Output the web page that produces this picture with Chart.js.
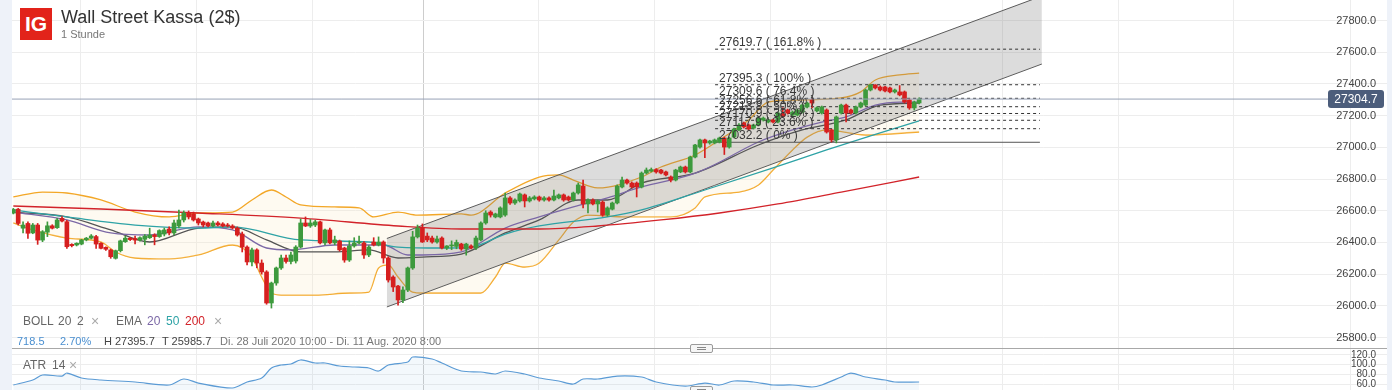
<!DOCTYPE html>
<html>
<head>
<meta charset="utf-8">
<title>Wall Street Kassa (2$)</title>
<script src="https://cdn.jsdelivr.net/npm/chart.js@4.4.1/dist/chart.umd.min.js"></script>
<style>
  body { margin: 0; width: 1392px; height: 390px; overflow: hidden; position: relative; background: #fff;
         font-family: Arial, "Liberation Sans", sans-serif; }
  .strip { position: absolute; top: 0; height: 390px; background: #eef2f9; }
  .pane { position: absolute; left: 12px; width: 1375px; }
  .txt { position: absolute; white-space: nowrap; }
  .handle { position: absolute; left: 690px; width: 21px; height: 7px; border: 1px solid #9a9a9a; border-radius: 2px; background: #f6f6f6; }
  .handle i { position: absolute; left: 6px; width: 9px; height: 1px; background: #888; }
</style>
</head>
<body>
<div class="strip" style="left:0;width:12px"></div>
<div class="strip" style="left:1387px;width:5px"></div>
<div class="pane" style="top:0;height:348px"><canvas id="mainChart"></canvas></div>
<div style="position:absolute;left:12px;top:348px;width:1375px;height:1px;background:#a8a8a8"></div>
<div class="pane" style="top:349px;height:41px"><canvas id="atrChart"></canvas></div>

<!-- header -->
<div style="position:absolute;left:20px;top:8px;width:32px;height:32px;background:#e2231a;color:#fff;font-weight:bold;font-size:21px;line-height:32px;text-align:center">IG</div>
<div class="txt" style="left:61px;top:8px;font-size:18px;line-height:18px;color:#333">Wall Street Kassa (2$)</div>
<div class="txt" style="left:61px;top:29px;font-size:11px;line-height:11px;color:#777">1 Stunde</div>

<!-- indicator legend -->
<div class="txt" style="left:23px;top:315px;font-size:12px;line-height:12px;color:#666">BOLL</div>
<div class="txt" style="left:58px;top:315px;font-size:12px;line-height:12px;color:#666">20</div>
<div class="txt" style="left:77px;top:315px;font-size:12px;line-height:12px;color:#666">2</div>
<div class="txt" style="left:91px;top:314px;font-size:14px;line-height:14px;color:#aaa">&#215;</div>
<div class="txt" style="left:116px;top:315px;font-size:12px;line-height:12px;color:#666">EMA</div>
<div class="txt" style="left:147px;top:315px;font-size:12px;line-height:12px;color:#7b68a6">20</div>
<div class="txt" style="left:166px;top:315px;font-size:12px;line-height:12px;color:#2ea3a6">50</div>
<div class="txt" style="left:185px;top:315px;font-size:12px;line-height:12px;color:#d2232a">200</div>
<div class="txt" style="left:214px;top:314px;font-size:14px;line-height:14px;color:#aaa">&#215;</div>

<div class="txt" style="left:17px;top:336px;font-size:11px;line-height:11px;color:#4a8fd0">718.5</div>
<div class="txt" style="left:60px;top:336px;font-size:11px;line-height:11px;color:#4a8fd0">2.70%</div>
<div class="txt" style="left:104px;top:336px;font-size:11px;line-height:11px;color:#444">H 27395.7</div>
<div class="txt" style="left:162px;top:336px;font-size:11px;line-height:11px;color:#444">T 25985.7</div>
<div class="txt" style="left:220px;top:336px;font-size:11px;line-height:11px;color:#777">Di. 28 Juli 2020 10:00 - Di. 11 Aug. 2020 8:00</div>

<div class="handle" style="top:344px"><i style="top:2px"></i><i style="top:4px"></i></div>
<div class="handle" style="top:386px"><i style="top:2px"></i></div>

<div class="txt" style="left:23px;top:359px;font-size:12px;line-height:12px;color:#666">ATR</div>
<div class="txt" style="left:52px;top:359px;font-size:12px;line-height:12px;color:#666">14</div>
<div class="txt" style="left:69px;top:358px;font-size:14px;line-height:14px;color:#aaa">&#215;</div>

<script>
//--- Kerzen, 1 Stunde: Di. 28 Juli 2020 10:00 - Di. 11 Aug. 2020 8:00 (index 0 .. 186)
var opens = [
    26585, 26610, 26490, 26520, 26460, 26510, 26415, 26465, 26505, 26493,
    26552, 26531, 26388, 26384, 26390, 26416, 26427, 26437, 26395, 26369,
    26353, 26300, 26348, 26405, 26427, 26425, 26415, 26420, 26430, 26447,
    26437, 26453, 26485, 26460, 26504, 26542, 26586, 26580, 26548, 26529,
    26523, 26504, 26523, 26517, 26510, 26504, 26491, 26453, 26371, 26277,
    26353, 26270, 26214, 26018, 26144, 26239, 26302, 26280, 26283, 26371,
    26523, 26504, 26510, 26530, 26397, 26479, 26397, 26409, 26365, 26289,
    26378, 26397, 26397, 26321, 26403, 26384, 26403, 26302, 26182, 26125,
    26037, 26100, 26239, 26435, 26491, 26440, 26428, 26403, 26428, 26365,
    26378, 26375, 26390, 26359, 26378, 26365, 26416, 26523, 26592, 26561,
    26561, 26573, 26681, 26649, 26662, 26700, 26662, 26675, 26687, 26668,
    26681, 26668, 26681, 26700, 26687, 26668, 26712, 26756, 26643, 26668,
    26643, 26655, 26573, 26610, 26649, 26750, 26794, 26775, 26775, 26750,
    26838, 26850, 26860, 26857, 26845, 26813, 26794, 26845, 26876, 26845,
    26939, 27002, 27047, 27028, 27028, 27034, 27059, 27002, 27065, 27110,
    27154, 27141, 27122, 27141, 27173, 27160, 27173, 27160, 27210, 27236,
    27204, 27204, 27223, 27255, 27299, 27230, 27217, 27236, 27110, 27047,
    27217, 27267, 27236, 27217, 27255, 27267, 27362, 27394, 27381, 27381,
    27375, 27350, 27350, 27350, 27299, 27249, 27280
];
var highs = [
    26615, 26615, 26530, 26530, 26520, 26520, 26475, 26530, 26512, 26552,
    26563, 26540, 26392, 26398, 26420, 26432, 26450, 26445, 26400, 26372,
    26358, 26352, 26415, 26440, 26432, 26440, 26435, 26450, 26490, 26455,
    26480, 26491, 26498, 26542, 26605, 26599, 26599, 26592, 26554, 26535,
    26529, 26535, 26532, 26525, 26520, 26512, 26498, 26466, 26378, 26365,
    26360, 26290, 26222, 26150, 26245, 26321, 26320, 26340, 26380, 26548,
    26561, 26545, 26540, 26535, 26485, 26490, 26440, 26415, 26370, 26410,
    26430, 26440, 26405, 26380, 26430, 26435, 26410, 26310, 26190, 26130,
    26120, 26245, 26470, 26510, 26517, 26460, 26440, 26440, 26435, 26380,
    26410, 26415, 26395, 26395, 26385, 26440, 26530, 26600, 26600, 26585,
    26625, 26712, 26690, 26675, 26712, 26706, 26690, 26695, 26693, 26690,
    26688, 26731, 26706, 26706, 26693, 26718, 26775, 26794, 26675, 26675,
    26668, 26662, 26625, 26655, 26763, 26813, 26800, 26782, 26782, 26845,
    26870, 26870, 26866, 26862, 26850, 26820, 26862, 26882, 26882, 26945,
    27020, 27053, 27053, 27045, 27053, 27065, 27065, 27065, 27122, 27150,
    27160, 27147, 27147, 27192, 27192, 27180, 27179, 27223, 27250, 27242,
    27230, 27242, 27273, 27286, 27305, 27256, 27261, 27243, 27115, 27198,
    27273, 27273, 27242, 27261, 27286, 27368, 27396, 27396, 27388, 27386,
    27380, 27368, 27390, 27356, 27305, 27292, 27312
];
var lows = [
    26580, 26510, 26460, 26425, 26455, 26388, 26405, 26437, 26485, 26488,
    26530, 26362, 26372, 26378, 26385, 26410, 26422, 26362, 26360, 26350,
    26300, 26295, 26340, 26400, 26412, 26390, 26408, 26385, 26425, 26385,
    26432, 26441, 26447, 26447, 26491, 26529, 26548, 26535, 26510, 26498,
    26498, 26498, 26505, 26498, 26498, 26485, 26440, 26340, 26258, 26252,
    26240, 26200, 26010, 25986, 26130, 26230, 26270, 26265, 26270, 26365,
    26500, 26495, 26500, 26390, 26385, 26390, 26385, 26345, 26275, 26280,
    26370, 26390, 26300, 26310, 26378, 26378, 26270, 26150, 26090, 26005,
    26020, 26090, 26230, 26428, 26400, 26405, 26395, 26395, 26360, 26355,
    26355, 26360, 26350, 26320, 26360, 26355, 26410, 26515, 26560, 26555,
    26555, 26565, 26640, 26640, 26655, 26624, 26655, 26668, 26660, 26660,
    26660, 26662, 26675, 26660, 26662, 26662, 26705, 26618, 26586, 26637,
    26592, 26565, 26565, 26605, 26643, 26744, 26768, 26744, 26687, 26744,
    26832, 26845, 26838, 26832, 26820, 26782, 26788, 26840, 26838, 26840,
    26933, 26995, 26935, 27020, 27022, 27028, 26955, 26995, 27059, 27105,
    27122, 27110, 27116, 27135, 27166, 27154, 27154, 27154, 27190, 27210,
    27198, 27198, 27217, 27249, 27249, 27224, 27210, 27090, 27034, 27028,
    27210, 27160, 27210, 27210, 27249, 27261, 27356, 27368, 27356, 27350,
    27343, 27343, 27325, 27280, 27240, 27236, 27274
];
var closes = [
    26608, 26520, 26510, 26458, 26510, 26415, 26468, 26505, 26490, 26542,
    26535, 26373, 26380, 26395, 26416, 26427, 26441, 26390, 26363, 26357,
    26310, 26348, 26410, 26427, 26418, 26415, 26430, 26440, 26447, 26437,
    26475, 26479, 26460, 26523, 26542, 26586, 26561, 26542, 26523, 26510,
    26504, 26523, 26510, 26504, 26504, 26491, 26447, 26371, 26277, 26353,
    26270, 26214, 26018, 26144, 26239, 26302, 26280, 26321, 26371, 26523,
    26504, 26523, 26530, 26397, 26479, 26397, 26416, 26353, 26289, 26378,
    26397, 26403, 26321, 26371, 26384, 26403, 26302, 26163, 26119, 26037,
    26100, 26239, 26435, 26491, 26403, 26416, 26403, 26422, 26365, 26378,
    26384, 26400, 26359, 26390, 26365, 26428, 26523, 26586, 26573, 26580,
    26618, 26681, 26649, 26668, 26706, 26662, 26681, 26687, 26668, 26681,
    26668, 26693, 26700, 26668, 26668, 26712, 26763, 26643, 26668, 26643,
    26662, 26573, 26618, 26649, 26756, 26794, 26775, 26750, 26750, 26838,
    26857, 26860, 26845, 26838, 26826, 26794, 26857, 26876, 26845, 26939,
    27015, 27047, 27028, 27040, 27047, 27059, 27002, 27059, 27116, 27141,
    27129, 27116, 27141, 27185, 27185, 27173, 27160, 27217, 27195, 27217,
    27223, 27236, 27267, 27280, 27280, 27250, 27255, 27097, 27047, 27192,
    27267, 27217, 27217, 27255, 27280, 27362, 27394, 27375, 27362, 27356,
    27350, 27362, 27331, 27286, 27249, 27286, 27304.7
];

//--- Indikatoren: [Kerzen-Index, Wert]
var ema20 = [[0, 26592], [11, 26542], [20, 26460], [28, 26447], [38, 26498], [45, 26479], [52, 26365], [57, 26353],
    [66, 26384], [76, 26384], [81, 26321], [84, 26321], [92, 26340], [101, 26491], [108, 26561], [115, 26624],
    [122, 26681], [129, 26750], [139, 26826], [143, 26876], [153, 27034], [160, 27110], [166, 27160], [171, 27192],
    [177, 27267], [182, 27286], [186, 27286]];
var ema50 = [[0, 26605], [11, 26561], [25, 26510], [38, 26491], [45, 26498], [59, 26416], [73, 26403], [79, 26371],
    [88, 26365], [94, 26371], [101, 26453], [108, 26504], [122, 26561], [129, 26605], [142, 26731], [156, 26870],
    [167, 26984], [176, 27072], [186, 27167]];
var ema200 = [[0, 26630], [18, 26611], [38, 26586], [59, 26554], [79, 26504], [92, 26485], [108, 26485], [120, 26504],
    [133, 26542], [145, 26586], [157, 26643], [170, 26718], [186, 26813]];
var bollUpper = [[0, 26687], [6, 26718], [11, 26712], [18, 26668], [25, 26592], [32, 26561], [38, 26586], [45, 26592],
    [49, 26668], [53, 26731], [56, 26687], [59, 26637], [66, 26624], [71, 26618], [74, 26561], [79, 26592], [83, 26573],
    [92, 26580], [94, 26573], [101, 26712], [108, 26813], [112, 26826], [115, 26794], [120, 26744], [129, 26813],
    [133, 26876], [140, 26952], [145, 27047], [151, 27173], [155, 27286], [160, 27299], [170, 27312], [174, 27350],
    [177, 27425], [182, 27457], [186, 27469]];
var bollMid = [[0, 26592], [11, 26561], [20, 26479], [28, 26403], [38, 26491], [45, 26498], [52, 26416], [59, 26340],
    [66, 26340], [73, 26353], [79, 26302], [84, 26308], [92, 26327], [101, 26460], [108, 26542], [116, 26668],
    [122, 26668], [129, 26775], [140, 26838], [153, 27015], [162, 27110], [171, 27173], [178, 27267], [186, 27280]];
var bollLower = [[0, 26523], [4, 26479], [11, 26428], [18, 26403], [21, 26340], [25, 26302], [32, 26296], [38, 26321],
    [45, 26384], [49, 26308], [51, 26182], [53, 26081], [55, 26068], [62, 26068], [69, 26081], [73, 26087], [75, 26239],
    [77, 26258], [79, 26182], [82, 26087], [84, 26081], [96, 26081], [99, 26182], [101, 26270], [105, 26245],
    [108, 26270], [112, 26416], [115, 26529], [118, 26573], [126, 26561], [135, 26561], [140, 26618], [142, 26687],
    [149, 26718], [153, 26763], [156, 26857], [160, 26984], [163, 27065], [167, 27110], [175, 27078], [186, 27097]];

//--- Trendkanal (beide Enden)
var channelUpper = [[76.7, 26425], [211.2, 27955]];
var channelLower = [[76.7, 25993], [211.2, 27526]];

//--- Fibonacci
var fibLevels = [27619.7, 27395.3, 27309.6, 27256.6, 27213.8, 27170.9, 27117.9, 27032.2];
var fibLabels = ['161.8%', '100%', '76.4%', '61.8%', '50%', '38.2%', '23.6%', '0%'];
var fibFrom = 144.1, fibTo = 210.8;

//--- ATR 14
var atr = [[0, 57.9], [4, 68.3], [6, 78.6], [10, 76.5], [11, 82.7], [14, 72.4], [18, 68.3], [25, 64.1], [32, 57.9],
    [35, 70.3], [38, 62.0], [45, 51.7], [48, 64.1], [51, 72.4], [53, 93.1], [55, 99.3], [57, 101.4], [59, 109.7],
    [62, 103.4], [64, 103.4], [67, 97.2], [70, 95.2], [73, 93.1], [75, 86.9], [77, 99.3], [81, 105.5], [82, 115.9],
    [86, 111.7], [88, 103.4], [92, 86.9], [96, 84.8], [99, 80.7], [101, 86.9], [105, 80.7], [108, 72.4], [112, 66.2],
    [115, 60.0], [117, 70.3], [120, 70.3], [124, 76.5], [129, 74.5], [132, 64.1], [138, 55.8], [142, 62.0], [145, 57.9],
    [148, 66.2], [152, 64.1], [156, 57.9], [160, 57.9], [164, 53.8], [166, 57.9], [170, 74.5], [172, 82.7], [175, 74.5],
    [179, 68.3], [181, 64.1], [186, 64.1]];

//--- Achsen
var priceTicks = [25800, 26000, 26200, 26400, 26600, 26800, 27000, 27200, 27400, 27600, 27800];
var atrTicks = [60, 80, 100, 120];
var gridIdx = [13.84, 37.64, 61.4, 84.19, 107.8, 131.6, 155.4, 179.3, 203.1, 226.9, 250.5, 274.5];
var crossIdx = 84.19;
var xMin = -0.27, xMax = 282.07;
var priceMin = 25734, priceMax = 27930;
var atrMin = 47.6, atrMax = 132.4;
var priceLineTo = 270;

var GREEN = '#3d9a3d';
var RED = '#d61f1f';
var FONT = 'Arial, "Liberation Sans", sans-serif';

Chart.defaults.font.family = FONT;

function pts(arr) {
    return arr.map(function (p) { return { x: p[0], y: p[1] }; });
}
function candleColor(c) {
    var i = c.dataIndex;
    return closes[i] >= opens[i] ? GREEN : RED;
}
function lineSet(data, color, order, extra) {
    var ds = {
        type: 'line', data: pts(data), borderColor: color, borderWidth: 1.3,
        pointRadius: 0, tension: 0.35, cubicInterpolationMode: 'monotone', fill: false, order: order
    };
    for (var k in extra) ds[k] = extra[k];
    return ds;
}
function xAxis() {
    return {
        type: 'linear', min: xMin, max: xMax, offset: false,
        grid: {
            offset: false, drawTicks: false,
            color: function (c) { return c.tick && c.tick.value === crossIdx ? '#cdcdcd' : '#ededed'; }
        },
        border: { display: false },
        ticks: { display: false },
        afterBuildTicks: function (s) { s.ticks = gridIdx.map(function (v) { return { value: v }; }); },
        afterFit: function (s) { s.height = 0; }
    };
}
function yAxis(min, max, tickList, size) {
    return {
        position: 'right', min: min, max: max,
        grid: { color: '#ededed', drawTicks: false },
        border: { display: false },
        ticks: {
            mirror: true, padding: -11, autoSkip: false,
            color: '#444', font: { size: size },
            callback: function (v) { return v.toFixed(1); }
        },
        afterBuildTicks: function (s) { s.ticks = tickList.map(function (v) { return { value: v }; }); },
        afterFit: function (s) { s.width = 0; }
    };
}

var lastPrice = closes[closes.length - 1];

var wickData = opens.map(function (o, i) { return { x: i, y: [lows[i], highs[i]] }; });
var bodyData = opens.map(function (o, i) { return { x: i, y: [o, closes[i]] }; });

var fibSets = fibLevels.map(function (lv, k) {
    var zero = fibLabels[k] === '0%';
    return {
        type: 'line', data: [{ x: fibFrom, y: lv }, { x: fibTo, y: lv }],
        borderColor: zero ? '#555' : '#333', borderWidth: 1, borderDash: zero ? [] : [3, 3],
        pointRadius: 0, fill: false, order: 3
    };
});

//--- Beschriftung der Fibonacci-Linien
var fibText = {
    id: 'fibText',
    afterDatasetsDraw: function (chart) {
        var ctx = chart.ctx, xs = chart.scales.x, ys = chart.scales.y;
        ctx.save();
        ctx.font = '12px ' + FONT;
        ctx.fillStyle = '#383838';
        ctx.textAlign = 'left';
        ctx.textBaseline = 'alphabetic';
        fibLevels.forEach(function (lv, k) {
            ctx.fillText(lv.toFixed(1) + ' ( ' + fibLabels[k] + ' )', xs.getPixelForValue(fibFrom) + 4, ys.getPixelForValue(lv) - 3);
        });
        ctx.restore();
    }
};

//--- Kursmarke rechts
var priceTag = {
    id: 'priceTag',
    afterDraw: function (chart) {
        var ctx = chart.ctx, ys = chart.scales.y, area = chart.chartArea;
        var y = Math.round(ys.getPixelForValue(lastPrice));
        var w = 56, h = 18, x = area.right - 59;
        ctx.save();
        ctx.fillStyle = '#4c5d7b';
        ctx.beginPath();
        ctx.roundRect(x, y - h / 2, w, h, 3);
        ctx.fill();
        ctx.fillStyle = '#fff';
        ctx.font = '12px ' + FONT;
        ctx.textAlign = 'center';
        ctx.textBaseline = 'middle';
        ctx.fillText(lastPrice.toFixed(1), x + w / 2, y + 1);
        ctx.restore();
    }
};

var mainChart = new Chart(document.getElementById('mainChart'), {
    type: 'bar',
    data: {
        datasets: [
            { type: 'bar', data: bodyData, backgroundColor: candleColor, barThickness: 4, minBarLength: 1, grouped: false, borderWidth: 0, order: 1 },
            { type: 'bar', data: wickData, backgroundColor: candleColor, barThickness: 1, grouped: false, borderWidth: 0, order: 2 },
            { type: 'line', data: [{ x: xMin, y: lastPrice }, { x: priceLineTo, y: lastPrice }], borderColor: '#97a2b6', borderWidth: 1, pointRadius: 0, fill: false, order: 0 },
            lineSet(ema200, '#d2232a', 4),
            lineSet(ema50, '#2ea3a6', 4),
            lineSet(ema20, '#7b68a6', 4),
            lineSet(bollMid, '#555', 4),
            lineSet(bollUpper, '#f3a727', 5, { fill: '+1', backgroundColor: 'rgba(253,235,200,0.25)' }),
            lineSet(bollLower, '#f3a727', 5),
            { type: 'line', data: pts(channelUpper), borderColor: '#5a5a5a', borderWidth: 1, pointRadius: 0, tension: 0,
              fill: '+1', backgroundColor: 'rgba(120,120,120,0.26)', order: 4.5 },
            { type: 'line', data: pts(channelLower), borderColor: '#5a5a5a', borderWidth: 1, pointRadius: 0, tension: 0, fill: false, order: 4.5 }
        ].concat(fibSets)
    },
    options: {
        responsive: true,
        maintainAspectRatio: false,
        animation: false,
        events: [],
        layout: { padding: 0 },
        plugins: { legend: { display: false }, tooltip: { enabled: false } },
        scales: {
            x: xAxis(),
            y: yAxis(priceMin, priceMax, priceTicks, 11)
        }
    },
    plugins: [fibText, priceTag]
});

var atrChart = new Chart(document.getElementById('atrChart'), {
    type: 'line',
    data: {
        datasets: [{
            data: pts(atr), borderColor: '#5b9bd5', borderWidth: 1.2, pointRadius: 0, tension: 0.3,
            fill: 'start', backgroundColor: 'rgba(91,155,213,0.07)'
        }]
    },
    options: {
        responsive: true,
        maintainAspectRatio: false,
        animation: false,
        events: [],
        layout: { padding: 0 },
        plugins: { legend: { display: false }, tooltip: { enabled: false } },
        scales: {
            x: xAxis(),
            y: yAxis(atrMin, atrMax, atrTicks, 10)
        }
    }
});
console.log('charts ready');
</script>
</body>
</html>
